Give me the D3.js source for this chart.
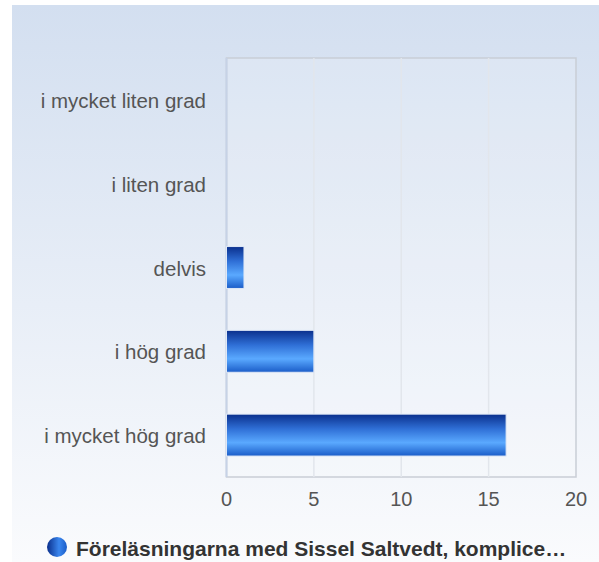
<!DOCTYPE html>
<html>
<head>
<meta charset="utf-8">
<script src="https://cdn.jsdelivr.net/npm/d3@7"></script>
<style>
  body { margin: 0; background: #fff; }
  svg { display: block; font-family: "Liberation Sans", Arial, sans-serif; }
</style>
</head>
<body>
<div id="chart-area"></div>
<script>
var categories = ["i mycket liten grad", "i liten grad", "delvis", "i hög grad", "i mycket hög grad"];
var values = [0, 0, 1, 5, 16];
var ticks = [0, 5, 10, 15, 20];
var legendLabel = "Föreläsningarna med Sissel Saltvedt, komplice…";

var svg_width = 599;
var svg_height = 562;
var plot_left = 226.5, plot_right = 576, plot_top = 58, plot_bottom = 477;

var svg = d3.select("#chart-area").append("svg")
    .attr("width", svg_width)
    .attr("height", svg_height);

var defs = svg.append("defs");

var bg = defs.append("linearGradient").attr("id", "bg")
    .attr("x1", 0).attr("y1", 0).attr("x2", 0).attr("y2", 1);
bg.append("stop").attr("offset", "0%").attr("stop-color", "#d3dff0");
bg.append("stop").attr("offset", "100%").attr("stop-color", "#fafbfd");

var bar = defs.append("linearGradient").attr("id", "bar")
    .attr("x1", 0).attr("y1", 0).attr("x2", 0).attr("y2", 1);
bar.append("stop").attr("offset", "0%").attr("stop-color", "#0a2f8c");
bar.append("stop").attr("offset", "35%").attr("stop-color", "#2f6fd6");
bar.append("stop").attr("offset", "68%").attr("stop-color", "#5aa9ff");
bar.append("stop").attr("offset", "100%").attr("stop-color", "#1a5cc8");

var dot = defs.append("linearGradient").attr("id", "dot")
    .attr("x1", 0).attr("y1", 0).attr("x2", 1).attr("y2", 0);
dot.append("stop").attr("offset", "0%").attr("stop-color", "#0a2f8c");
dot.append("stop").attr("offset", "60%").attr("stop-color", "#3a86ee");
dot.append("stop").attr("offset", "100%").attr("stop-color", "#1a5cc8");

svg.append("rect")
    .attr("x", 12).attr("y", 5)
    .attr("width", svg_width - 12).attr("height", svg_height - 5)
    .attr("fill", "url(#bg)");

var x = d3.scaleLinear()
    .domain([0, 20])
    .range([plot_left, plot_right]);

var y = d3.scaleBand()
    .domain(categories)
    .range([plot_top, plot_bottom])
    .paddingInner(0.5)
    .paddingOuter(0.25);

// plot area
svg.append("rect")
    .attr("x", plot_left).attr("y", plot_top)
    .attr("width", plot_right - plot_left).attr("height", plot_bottom - plot_top)
    .attr("fill", "rgba(255,255,255,0.15)")
    .attr("stroke", "#c9ced6")
    .attr("stroke-width", 1.5);

svg.selectAll(".grid")
    .data(ticks.slice(1, -1))
    .enter().append("line")
    .attr("x1", (d) => x(d)).attr("x2", (d) => x(d))
    .attr("y1", plot_top).attr("y2", plot_bottom)
    .attr("stroke", "#e2e6ec")
    .attr("stroke-width", 1.5);

svg.append("line")
    .attr("x1", plot_left).attr("x2", plot_left)
    .attr("y1", plot_top).attr("y2", plot_bottom)
    .attr("stroke", "#c6d2e6")
    .attr("stroke-width", 2);

svg.selectAll(".bar")
    .data(values)
    .enter().append("rect")
    .attr("x", x(0))
    .attr("y", (d, i) => y(categories[i]))
    .attr("width", (d) => x(d) - x(0))
    .attr("height", y.bandwidth())
    .attr("fill", "url(#bar)")
    .attr("stroke", (d) => d > 0 ? "#dfe8f6" : "none")
    .attr("stroke-width", 1);

svg.selectAll(".ylab")
    .data(categories)
    .enter().append("text")
    .attr("x", 206)
    .attr("y", (d) => y(d) + y.bandwidth() / 2 + 1)
    .attr("dy", "0.35em")
    .attr("text-anchor", "end")
    .attr("font-size", 20.5)
    .attr("fill", "#555")
    .text((d) => d);

svg.selectAll(".xlab")
    .data(ticks)
    .enter().append("text")
    .attr("x", (d) => x(d))
    .attr("y", 499)
    .attr("dy", "0.35em")
    .attr("text-anchor", "middle")
    .attr("font-size", 20)
    .attr("fill", "#555")
    .text((d) => d);

svg.append("circle")
    .attr("cx", 57).attr("cy", 547).attr("r", 10)
    .attr("fill", "url(#dot)");

svg.append("text")
    .attr("x", 76).attr("y", 549)
    .attr("dy", "0.35em")
    .attr("font-size", 21)
    .attr("font-weight", "bold")
    .attr("fill", "#333")
    .text(legendLabel);
</script>
</body>
</html>
